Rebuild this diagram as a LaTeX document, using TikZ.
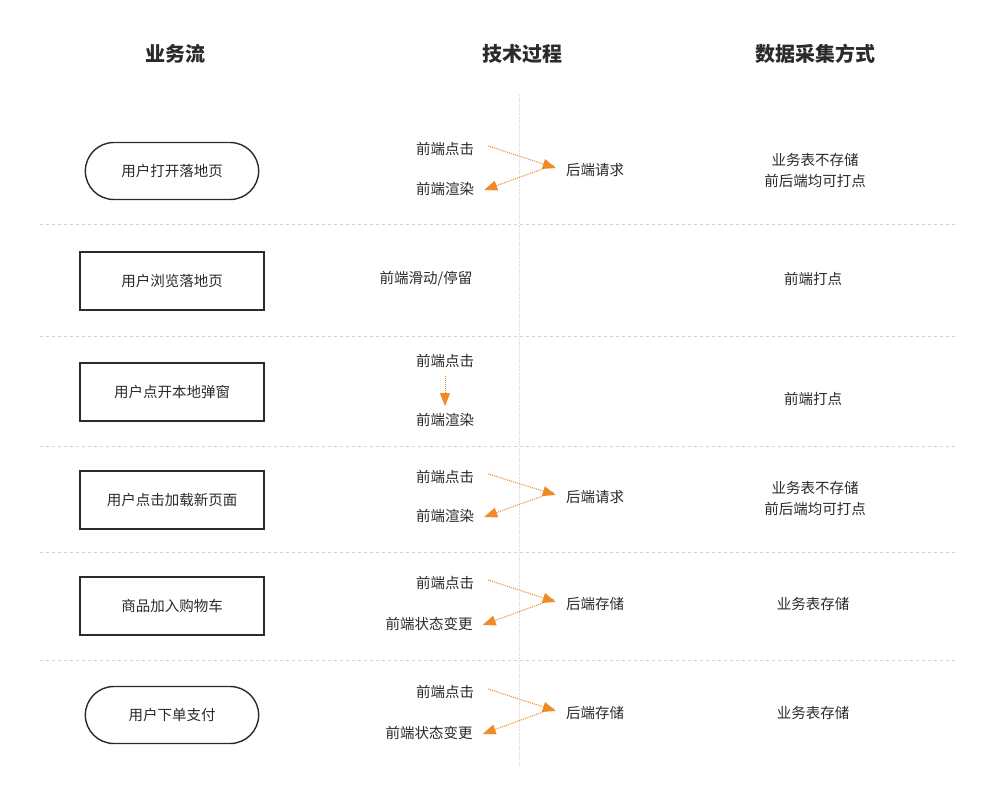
\documentclass[tikz,border=0pt]{standalone}
\usepackage{fontspec}
\setmainfont{Noto Sans CJK SC}
\usetikzlibrary{arrows.meta,shapes.misc}
\definecolor{org}{HTML}{F08A24}
\definecolor{txt}{HTML}{2B2B2B}
\begin{document}
\begin{tikzpicture}[x=1pt,y=-1pt,
  lbl/.style={font=\fontsize{14.5}{21}\selectfont,text=txt,inner sep=0pt,align=center},
  hdr/.style={font=\fontsize{20}{24}\selectfont\bfseries,text=txt,inner sep=0pt},
  flowbox/.style={draw=txt,line width=1.4pt,minimum width=184pt,minimum height=58pt,font=\fontsize{14.5}{17}\selectfont,text=txt},
  pill/.style={flowbox,rounded rectangle,minimum width=180pt,minimum height=57pt},
  arr/.style={org,densely dotted,line width=1pt,-{Triangle[length=13pt,width=10pt,fill=org]}},
  sep/.style={gray!35,dashed,line width=0.6pt}]
\fill[white] (0,0) rectangle (1003,800);
\useasboundingbox (0,0) rectangle (1003,800);
\node[hdr] (h1) at (175,54) {业务流};
\node[hdr] (h2) at (522,54) {技术过程};
\node[hdr] (h3) at (815,54) {数据采集方式};
\coordinate (vt) at (519,95); \coordinate (vb) at (519,765);
\draw[gray!30,densely dotted,line width=0.8pt] (vt) -- (vb);
\foreach \y/\n in {224/a,336/b,446/c,552/d,660/e}{
  \coordinate (l\n) at (40,\y); \coordinate (r\n) at (955,\y);
  \draw[sep] (l\n) -- (r\n);}
% row1
\node[pill] (b1) at (172,171) {用户打开落地页};
\node[lbl] (c1) at (445,149) {前端点击};
\node[lbl] (d1) at (445,189) {前端渲染};
\node[lbl] (s1) at (595,170) {后端请求};
\draw[arr] ([xshift=14pt,yshift=3pt]c1.east) -- ([xshift=-10pt,yshift=2pt]s1.west);
\draw[arr] ([xshift=-12pt,yshift=5pt]s1.west) -- ([xshift=10pt,yshift=-1pt]d1.east);
\node[lbl] (e1) at (815,170) {业务表不存储\\前后端均可打点};
% row2
\node[flowbox] (b2) at (172,281) {用户浏览落地页};
\node[lbl] (c2) at (426,279) {前端滑动/停留};
\node[lbl] (e2) at (813,279) {前端打点};
% row3
\node[flowbox] (b3) at (172,392) {用户点开本地弹窗};
\node[lbl] (c3) at (445,361) {前端点击};
\node[lbl] (d3) at (445,420) {前端渲染};
\draw[arr] ([yshift=-8pt]c3.south) -- ([yshift=7pt]d3.north);
\node[lbl] (e3) at (813,399) {前端打点};
% row4
\node[flowbox] (b4) at (172,500) {用户点击加载新页面};
\node[lbl] (c4) at (445,477) {前端点击};
\node[lbl] (d4) at (445,516) {前端渲染};
\node[lbl] (s4) at (595,497) {后端请求};
\draw[arr] ([xshift=14pt,yshift=3pt]c4.east) -- ([xshift=-10pt,yshift=2pt]s4.west);
\draw[arr] ([xshift=-12pt,yshift=5pt]s4.west) -- ([xshift=10pt,yshift=-1pt]d4.east);
\node[lbl] (e4) at (815,498) {业务表不存储\\前后端均可打点};
% row5
\node[flowbox] (b5) at (172,606) {商品加入购物车};
\node[lbl] (c5) at (445,583) {前端点击};
\node[lbl] (d5) at (429,624) {前端状态变更};
\node[lbl] (s5) at (595,604) {后端存储};
\draw[arr] ([xshift=14pt,yshift=3pt]c5.east) -- ([xshift=-10pt,yshift=2pt]s5.west);
\draw[arr] ([xshift=-12pt,yshift=5pt]s5.west) -- ([xshift=10pt,yshift=-1pt]d5.east);
\node[lbl] (e5) at (813,604) {业务表存储};
% row6
\node[pill] (b6) at (172,715) {用户下单支付};
\node[lbl] (c6) at (445,692) {前端点击};
\node[lbl] (d6) at (429,733) {前端状态变更};
\node[lbl] (s6) at (595,713) {后端存储};
\draw[arr] ([xshift=14pt,yshift=3pt]c6.east) -- ([xshift=-10pt,yshift=2pt]s6.west);
\draw[arr] ([xshift=-12pt,yshift=5pt]s6.west) -- ([xshift=10pt,yshift=-1pt]d6.east);
\node[lbl] (e6) at (813,713) {业务表存储};
\end{tikzpicture}
\end{document}
